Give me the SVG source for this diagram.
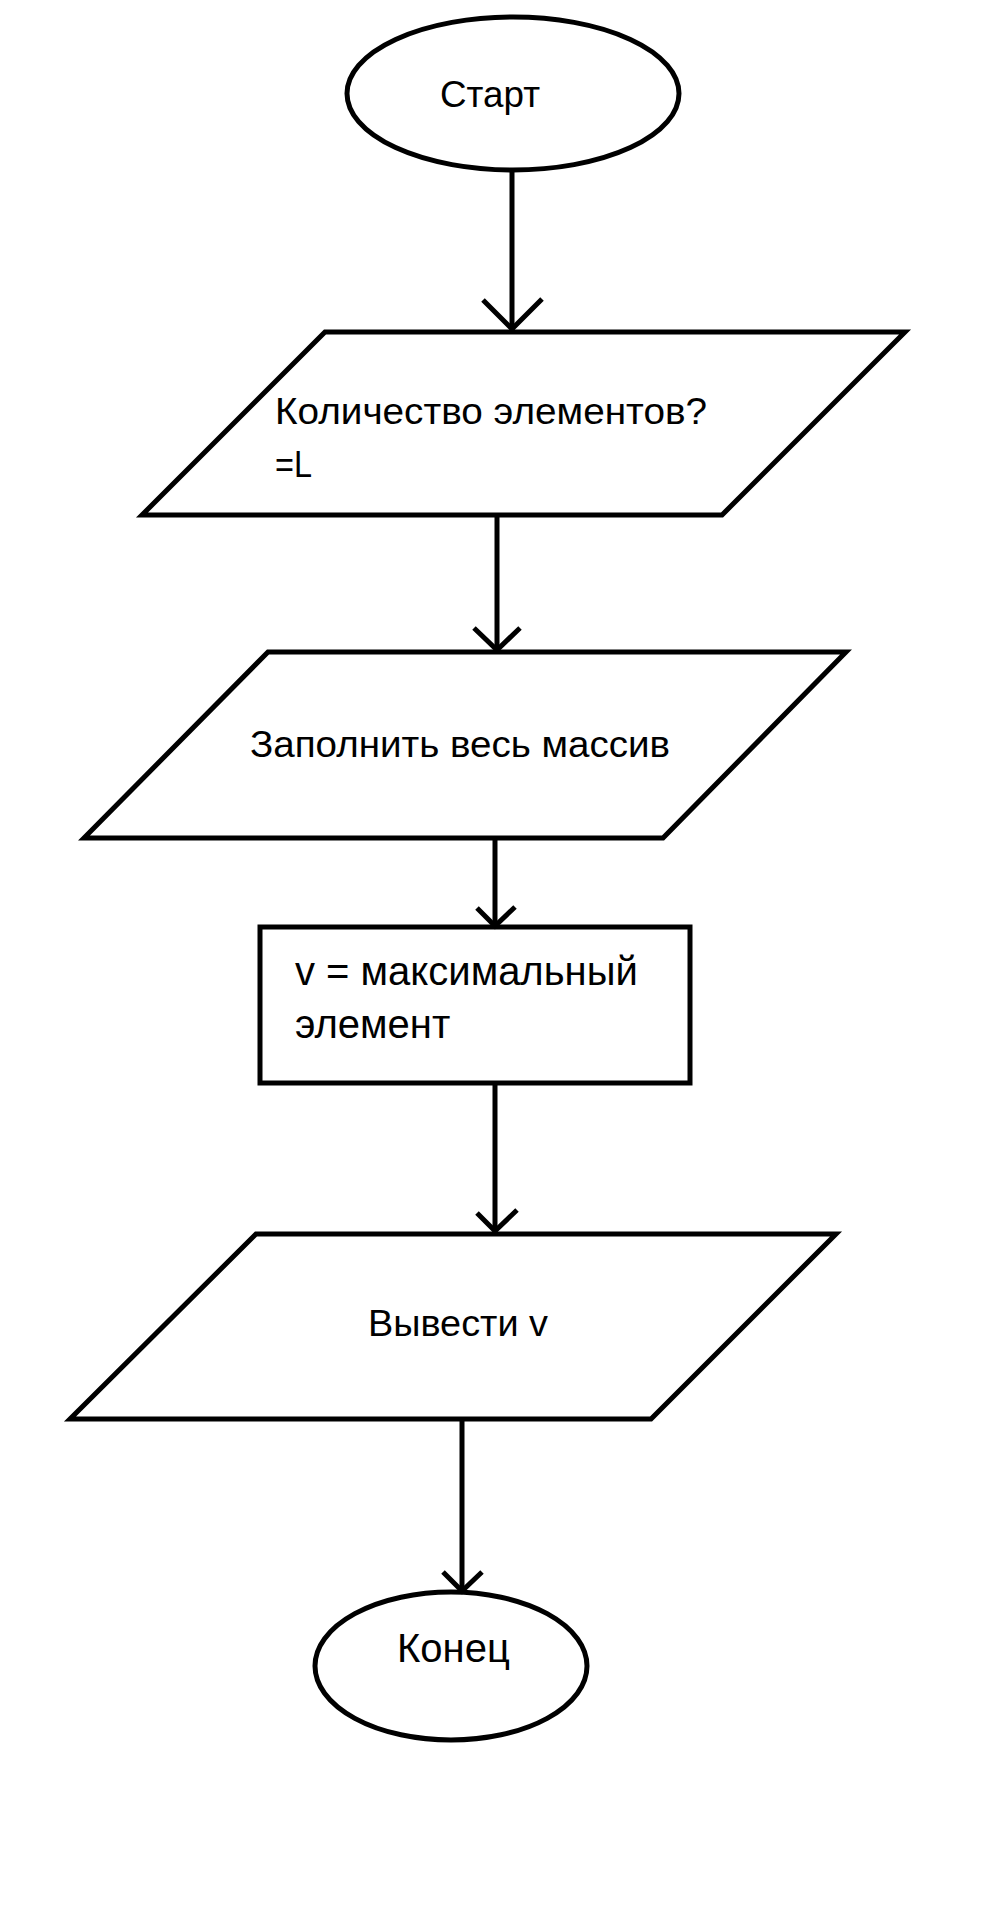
<svg xmlns="http://www.w3.org/2000/svg" width="995" height="1920" viewBox="0 0 995 1920">
  <style>
    .shape { fill: #ffffff; stroke: #000000; stroke-width: 5; stroke-linejoin: miter; }
    .edge { fill: none; stroke: #000000; stroke-width: 5; }
    .lbl { font-family: "Liberation Sans", Arial, sans-serif; fill: #000000; }
    .s1 { font-size: 37px; }
    .s2 { font-size: 40px; }
  </style>
  <rect x="0" y="0" width="995" height="1920" fill="#ffffff"/>

  <g id="start">
    <ellipse class="shape" cx="513" cy="93.5" rx="166" ry="76.5" stroke-width="4.5"/>
    <text class="lbl s1" x="440" y="107" textLength="100" lengthAdjust="spacingAndGlyphs">Старт</text>
  </g>

  <g id="input-count">
    <polygon class="shape" points="325,332 905,332 722,515 142,515"/>
    <text class="lbl s1" x="275" y="424" textLength="432" lengthAdjust="spacingAndGlyphs">Количество элементов?</text>
    <text class="lbl s1" x="275" y="477" textLength="37" lengthAdjust="spacingAndGlyphs">=L</text>
  </g>

  <g id="fill-array">
    <polygon class="shape" points="268,652 846,652 663,838 84,838"/>
    <text class="lbl s1" x="250" y="757" textLength="420" lengthAdjust="spacingAndGlyphs">Заполнить весь массив</text>
  </g>

  <g id="max-element">
    <rect class="shape" x="260" y="927" width="430" height="156"/>
    <text class="lbl s2" x="295" y="985">v = максимальный</text>
    <text class="lbl s2" x="295" y="1038">элемент</text>
  </g>

  <g id="output-v">
    <polygon class="shape" points="256,1234 836,1234 651,1419 70,1419"/>
    <text class="lbl s1" x="368" y="1336" textLength="180" lengthAdjust="spacingAndGlyphs">Вывести v</text>
  </g>

  <g id="end">
    <ellipse class="shape" cx="451" cy="1666" rx="136" ry="74" stroke-width="4.5"/>
    <text class="lbl s2" x="397" y="1662">Конец</text>
  </g>

  <g id="connectors">
    <line class="edge" x1="512" y1="171" x2="512" y2="330"/>
    <polyline class="edge" points="483,300 512,329 542,299"/>

    <line class="edge" x1="497" y1="515" x2="497" y2="650"/>
    <polyline class="edge" points="474,628 497,650 520,628"/>

    <line class="edge" x1="495" y1="838" x2="495" y2="926"/>
    <polyline class="edge" points="477,908 495,926 515,907"/>

    <line class="edge" x1="495" y1="1083" x2="495" y2="1232"/>
    <polyline class="edge" points="477,1213 495,1231 517,1210"/>

    <line class="edge" x1="462" y1="1419" x2="462" y2="1592"/>
    <polyline class="edge" points="443,1572 462,1591 482,1572"/>
  </g>
</svg>
